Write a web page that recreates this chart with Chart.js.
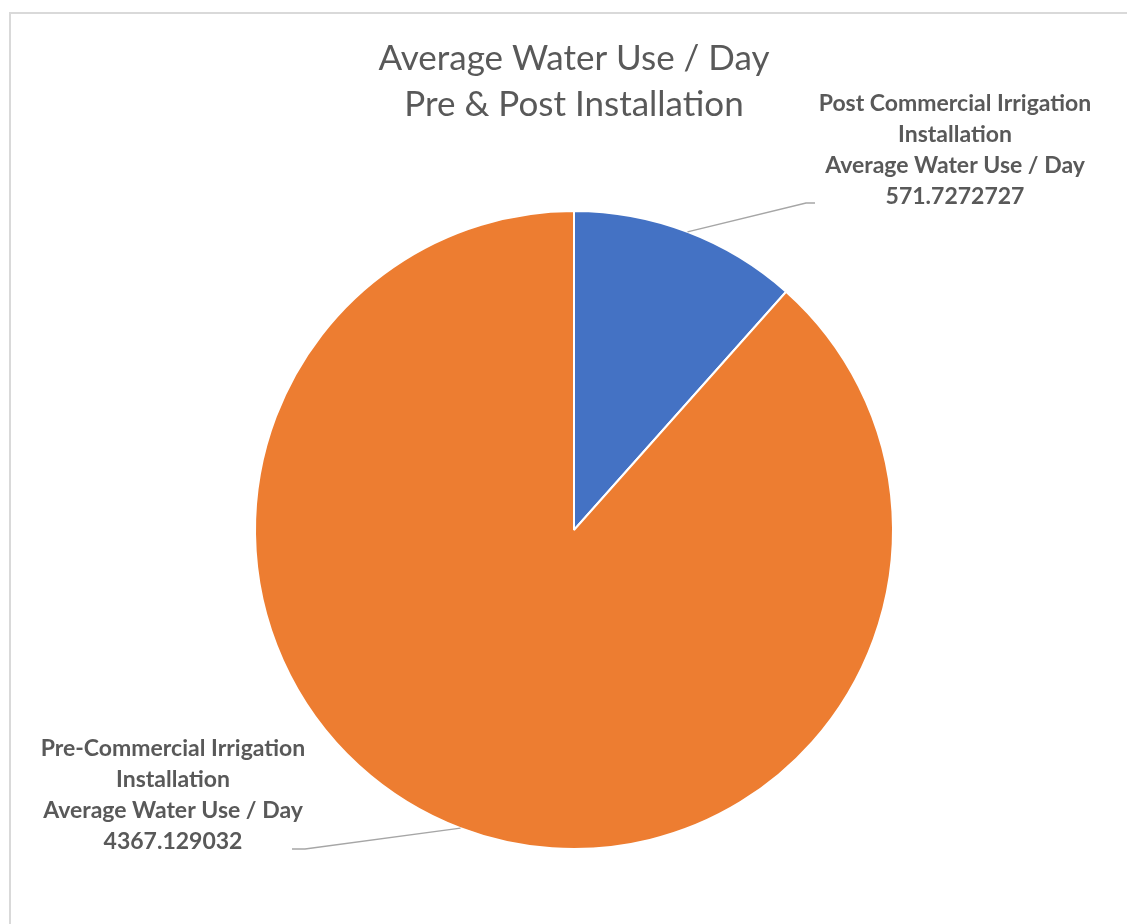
<!DOCTYPE html>
<html>
<head>
<meta charset="utf-8">
<script src="https://cdn.jsdelivr.net/npm/chart.js@4.4.1/dist/chart.umd.min.js"></script>
<style>
  html, body { margin: 0; padding: 0; background: #fff; overflow: hidden; }
  #wrap { position: relative; width: 1127px; height: 924px; }
  #frame {
    position: absolute; left: 9px; top: 12px; width: 1200px; height: 1000px;
    border: 2px solid #d9d9d9; box-sizing: border-box;
  }
  canvas { position: absolute; left: 0; top: 0; }
</style>
</head>
<body>
<div id="wrap">
  <div id="frame"></div>
  <canvas id="pie" width="1127" height="924"></canvas>
</div>
<script>
'use strict';

// ── Data ──────────────────────────────────────────────────────────────────────
const categories = [
  ['Post Commercial Irrigation', 'Installation'],
  ['Pre-Commercial Irrigation', 'Installation'],
];
const values = [571.7272727, 4367.129032];
const valueLabels = ['571.7272727', '4367.129032'];
const colors = ['#4472C4', '#ED7D31'];
const titleLines = ['Average Water Use / Day', 'Pre & Post Installation'];

// label box placement per slice (center x, first line y) and leader elbow
const labelPos = [
  { cx: 955, y: 104, elbowX: 806, elbowY: 203, endX: 815 },
  { cx: 173, y: 749, elbowX: 305, elbowY: 849, endX: 292 },
];

const TEXT = '#595959';

// ── Data labels with leader lines ─────────────────────────────────────────────
const calloutPlugin = {
  id: 'callouts',
  afterDatasetsDraw(chart) {
    const { ctx } = chart;
    const arcs = chart.getDatasetMeta(0).data;
    ctx.save();
    arcs.forEach((arc, i) => {
      const p = labelPos[i];
      const mid = (arc.startAngle + arc.endAngle) / 2;
      const ax = arc.x + Math.cos(mid) * arc.outerRadius;
      const ay = arc.y + Math.sin(mid) * arc.outerRadius;

      ctx.strokeStyle = '#a6a6a6';
      ctx.lineWidth = 1.5;
      ctx.beginPath();
      ctx.moveTo(ax, ay);
      ctx.lineTo(p.elbowX, p.elbowY);
      ctx.lineTo(p.endX, p.elbowY);
      ctx.stroke();

      const lines = [...categories[i], 'Average Water Use / Day', valueLabels[i]];
      ctx.fillStyle = TEXT;
      ctx.font = 'bold 23px Lato';
      ctx.textAlign = 'center';
      ctx.textBaseline = 'middle';
      lines.forEach((t, k) => ctx.fillText(t, p.cx, p.y + k * 30.7));
    });
    ctx.restore();
  },
};

// ── Chart ─────────────────────────────────────────────────────────────────────
new Chart(document.getElementById('pie').getContext('2d'), {
  type: 'pie',
  data: {
    labels: categories.map(c => c.join(' ')),
    datasets: [{
      data: values,
      backgroundColor: colors,
      borderColor: '#ffffff',
      borderWidth: 2,
      hoverOffset: 0,
    }],
  },
  options: {
    responsive: false,
    animation: false,
    events: [],
    layout: { padding: { top: 0, bottom: 74, left: 254, right: 233 } },
    plugins: {
      legend: { display: false },
      tooltip: { enabled: false },
      title: {
        display: true,
        text: titleLines,
        color: TEXT,
        font: { family: 'Lato', size: 35, weight: 'normal', lineHeight: 1.314 },
        padding: { top: 36, bottom: 82 },
      },
    },
  },
  plugins: [calloutPlugin],
});
</script>
</body>
</html>
